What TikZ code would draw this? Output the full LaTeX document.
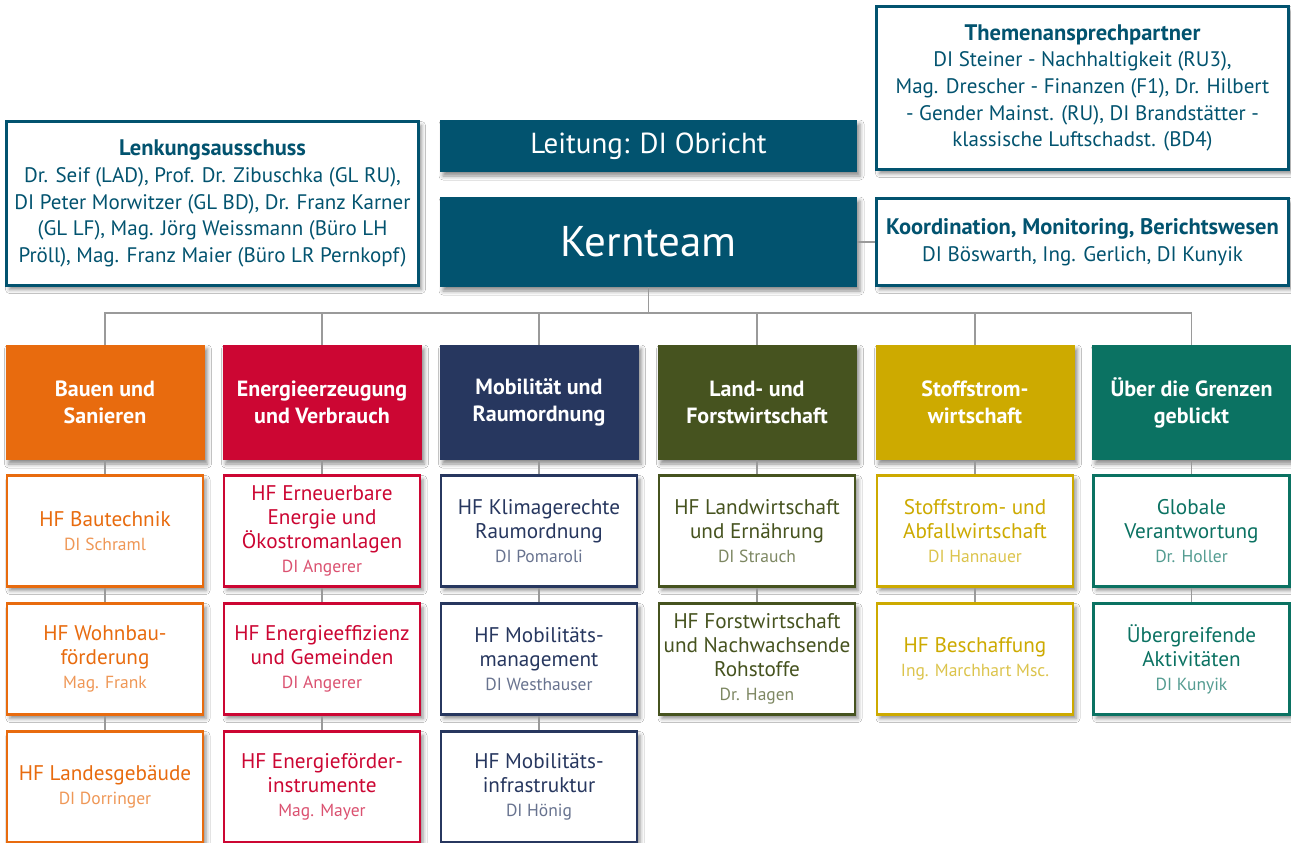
\documentclass[tikz,border=0pt]{standalone}
\usepackage{fontspec}
\setmainfont{PT Sans}
\usetikzlibrary{shadows.blur}
\definecolor{hd}{HTML}{02536F}
\definecolor{cor}{HTML}{E86B0E}
\definecolor{cre}{HTML}{CC0633}
\definecolor{cnv}{HTML}{27375F}
\definecolor{col}{HTML}{46531F}
\definecolor{cgo}{HTML}{CDAA00}
\definecolor{ctl}{HTML}{0B7262}
\definecolor{lin}{HTML}{9A9A9A}
\newcommand\nm[1]{{\fontsize{17.5}{18}\selectfont\color{.!70}#1}}
\newcommand\hdr[1]{{\fontsize{22.5}{24}\selectfont\bfseries #1}}
\begin{document}
\begin{tikzpicture}[x=1pt,y=-1pt,
  shad/.style={blur shadow={shadow xshift=3pt, shadow yshift=-4pt, shadow blur radius=4pt, shadow opacity=45}},
  cat/.style={shad, fill=#1, text=white, minimum width=199pt, minimum height=115pt, inner sep=0pt, align=center, font=\fontsize{22}{27}\selectfont\bfseries},
  sub/.style={shad, draw=#1, line width=2.6pt, fill=white, text=#1, minimum width=196pt, minimum height=111pt, inner sep=0pt, align=center, font=\fontsize{21.2}{24}\selectfont},
  info/.style={shad, draw=hd, line width=2.6pt, fill=white, text=hd, minimum width=412pt, inner sep=0pt, align=center, font=\fontsize{21}{26.7}\selectfont},
  dark/.style={shad, fill=hd, text=white, minimum width=417pt, inner sep=0pt, align=center},
  conn/.style={draw=lin, line width=1.1pt}]
\useasboundingbox (0,0) rectangle (1291,843);
\clip (0,0) rectangle (1291,843);
\fill[white] (0,0) rectangle (1291,843);

% top row
\node[info, minimum height=164pt] (lenk) at (212.5,203.5) {\hdr{Lenkungsausschuss}\\Dr. Seif (LAD), Prof. Dr. Zibuschka (GL RU),\\DI Peter Morwitzer (GL BD), Dr. Franz Karner\\(GL LF), Mag. Jörg Weissmann (Büro LH\\Pröll), Mag. Franz Maier (Büro LR Pernkopf)};
\node[dark, minimum height=52pt, font=\fontsize{29}{30}\selectfont] (leit) at (648.5,146) {Leitung: DI Obricht};
\node[dark, minimum height=90pt, font=\fontsize{43}{46}\selectfont] (kern) at (648.5,242) {Kernteam};
\node[info, minimum height=163pt] (them) at (1082.5,88) {\hdr{Themenansprechpartner}\\DI Steiner - Nachhaltigkeit (RU3),\\Mag. Drescher - Finanzen (F1), Dr. Hilbert\\- Gender Mainst. (RU), DI Brandstätter -\\klassische Luftschadst. (BD4)};
\node[info, minimum height=87pt] (koord) at (1082.5,242) {\hdr{Koordination, Monitoring, Berichtswesen}\\DI Böswarth, Ing. Gerlich, DI Kunyik};

% categories
\node[cat=cor] (c1) at (105,402.5) {Bauen und\\Sanieren};
\node[cat=cre] (c2) at (322,402.5) {Energieerzeugung\\und Verbrauch};
\node[cat=cnv] (c3) at (539,402.5) {Mobilität und\\Raumordnung};
\node[cat=col] (c4) at (757,402.5) {Land- und\\Forstwirtschaft};
\node[cat=cgo] (c5) at (975,402.5) {Stoffstrom-\\wirtschaft};
\node[cat=ctl] (c6) at (1191.5,402.5) {Über die Grenzen\\geblickt};

% sub boxes
\node[sub=cor] (s11) at (105,531) {HF Bautechnik\\\nm{DI Schraml}};
\node[sub=cor] (s12) at (105,659) {HF Wohnbau-\\förderung\\\nm{Mag. Frank}};
\node[sub=cor] (s13) at (105,787) {HF Landesgebäude\\\nm{DI Dorringer}};

\node[sub=cre] (s21) at (322,531) {HF Erneuerbare\\Energie und\\Ökostromanlagen\\\nm{DI Angerer}};
\node[sub=cre] (s22) at (322,659) {HF Energieeffizienz\\und Gemeinden\\\nm{DI Angerer}};
\node[sub=cre] (s23) at (322,787) {HF Energieförder-\\instrumente\\\nm{Mag. Mayer}};

\node[sub=cnv] (s31) at (539,531) {HF Klimagerechte\\Raumordnung\\\nm{DI Pomaroli}};
\node[sub=cnv] (s32) at (539,659) {HF Mobilitäts-\\management\\\nm{DI Westhauser}};
\node[sub=cnv] (s33) at (539,787) {HF Mobilitäts-\\infrastruktur\\\nm{DI Hönig}};

\node[sub=col] (s41) at (757,531) {HF Landwirtschaft\\und Ernährung\\\nm{DI Strauch}};
\node[sub=col] (s42) at (757,659) {HF Forstwirtschaft\\und Nachwachsende\\Rohstoffe\\\nm{Dr. Hagen}};

\node[sub=cgo] (s51) at (975,531) {Stoffstrom- und\\Abfallwirtschaft\\\nm{DI Hannauer}};
\node[sub=cgo] (s52) at (975,659) {HF Beschaffung\\\nm{Ing. Marchhart Msc.}};

\node[sub=ctl] (s61) at (1191.5,531) {Globale\\Verantwortung\\\nm{Dr. Holler}};
\node[sub=ctl] (s62) at (1191.5,659) {Übergreifende\\Aktivitäten\\\nm{DI Kunyik}};

% connectors
\coordinate (bar) at (648.5,313);
\draw[conn] (kern.south) -- (bar);
\draw[conn] (kern.east) -- (koord.west);
\foreach \i in {1,...,6} { \draw[conn] (c\i.north) |- (bar); }
\foreach \a/\b in {c1/s11,s11/s12,s12/s13,c2/s21,s21/s22,s22/s23,c3/s31,s31/s32,s32/s33,c4/s41,s41/s42,c5/s51,s51/s52,c6/s61,s61/s62} { \draw[conn] (\a.south) -- (\b.north); }
\end{tikzpicture}
\end{document}
